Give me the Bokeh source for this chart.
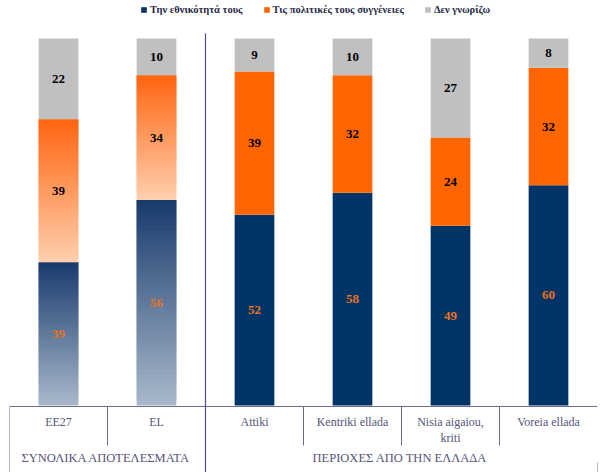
from bokeh.plotting import figure
from bokeh.models import FactorRange, Range1d, Legend, LegendItem, ColumnDataSource
from bokeh.core.properties import value
from bokeh.embed import file_html
from bokeh.resources import INLINE

# ---- data ----
categories = ["EE27", "EL", "Attiki", "Kentriki ellada", "Nisia aigaiou,", "Voreia ellada"]
category_labels = ["EE27", "EL", "Attiki", "Kentriki ellada", "Nisia aigaiou,\nkriti", "Voreia ellada"]
nationality = [39, 56, 52, 58, 49, 60]
political = [39, 34, 39, 32, 24, 32]
dont_know = [22, 10, 9, 10, 27, 8]
series_names = ["Την εθνικότητά τους", "Τις πολιτικές τους συγγένειες", "Δεν γνωρίζω"]
group_labels = ["ΣΥΝΟΛΙΚΑ  ΑΠΟΤΕΛΕΣΜΑΤΑ", "ΠΕΡΙΟΧΕΣ  ΑΠΟ ΤΗΝ ΕΛΛΑΔΑ"]
group_sizes = [2, 4]

# ---- style ----
NAVY = "#003366"
ORANGE = "#FF6600"
GRAY = "#C0C0C0"
LINE = "#6a6a8c"
DIVIDER = "#4f4f86"
SERIF = "Liberation Serif"
BAR_W = 0.405

p = figure(width=600, height=472, output_backend="svg", toolbar_location=None,
           x_range=FactorRange(factors=categories, range_padding=0),
           y_range=Range1d(-18.26, 110.35),
           min_border_left=9, min_border_right=3, min_border_top=0, min_border_bottom=0)
p.xaxis.visible = False
p.yaxis.visible = False
p.xgrid.visible = False
p.ygrid.visible = False
p.outline_line_color = None
p.background_fill_color = "white"

n_tot = group_sizes[0]

# ---- gradient bars for the totals group (rendered as thin overlapping slices) ----
def hexrgb(h):
    h = h.lstrip("#")
    return tuple(int(h[i:i + 2], 16) for i in (0, 2, 4))

def mix(c1, c2, t):
    a, b = hexrgb(c1), hexrgb(c2)
    return "#%02x%02x%02x" % tuple(int(round(a[i] + (b[i] - a[i]) * t)) for i in range(3))

grad = {"x": [], "bottom": [], "top": [], "color": []}
N = 40
for i in range(n_tot):
    segs = [(0, nationality[i], "#183a6c", "#a9b9cb"),
            (nationality[i], nationality[i] + political[i], "#ff6510", "#ffcfae")]
    for b, t, ctop, cbot in segs:
        h = (t - b) / N
        for k in range(N):
            y0 = b + h * k
            grad["x"].append(categories[i])
            grad["bottom"].append(y0)
            grad["top"].append(min(t, y0 + h * 2.0))
            grad["color"].append(mix(cbot, ctop, (k + 0.5) / N))
p.vbar(x="x", bottom="bottom", top="top", width=BAR_W, source=ColumnDataSource(grad),
       fill_color="color", line_color=None)
gray_tot = ColumnDataSource(dict(x=categories[:n_tot],
                                 bottom=[nationality[i] + political[i] for i in range(n_tot)],
                                 top=[nationality[i] + political[i] + dont_know[i] for i in range(n_tot)]))
p.vbar(x="x", bottom="bottom", top="top", width=BAR_W, source=gray_tot,
       fill_color=GRAY, line_color=None)

# ---- solid stacked bars for the regions ----
src = ColumnDataSource(dict(x=categories[n_tot:], nat=nationality[n_tot:],
                            pol=political[n_tot:], dk=dont_know[n_tot:]))
rs = p.vbar_stack(["nat", "pol", "dk"], x="x", width=BAR_W, source=src,
                  color=[NAVY, ORANGE, GRAY], line_color=None)

# ---- value labels ----
lab = {"x": [], "y": [], "t": [], "c": []}
for i, cat in enumerate(categories):
    b = 0
    for v, col in ((nationality[i], "#E8731E"), (political[i], "black"), (dont_know[i], "black")):
        lab["x"].append(cat)
        lab["y"].append(b + v / 2)
        lab["t"].append(str(v))
        lab["c"].append(col)
        b += v
p.text(x="x", y="y", text="t", text_color="c", source=ColumnDataSource(lab),
       text_font=value(SERIF), text_font_style="bold", text_font_size="13px",
       text_align="center", text_baseline="middle")

# ---- table below the bars ----
ncat = len(categories)
p.segment(x0=[0], y0=[-0.27], x1=[ncat], y1=[-0.27], line_color=LINE, line_width=1)
sep_x = [k for k in range(1, ncat) if k != n_tot]
p.segment(x0=sep_x, y0=[-0.27] * len(sep_x), x1=sep_x, y1=[-10.9] * len(sep_x),
          line_color=LINE, line_width=1)
p.segment(x0=[0], y0=[-0.27], x1=[0], y1=[-18.3], line_color=LINE, line_width=1)
p.segment(x0=[ncat], y0=[-15.5], x1=[ncat], y1=[-18.3], line_color=LINE, line_width=1)
p.segment(x0=[n_tot], y0=[101.4], x1=[n_tot], y1=[-18.3], line_color=DIVIDER, line_width=1.2)

p.text(x=categories, y=[-2.5] * ncat, text=category_labels, text_color="#55557a",
       text_font=value(SERIF), text_font_size="12px", text_align="center",
       text_baseline="top", text_line_height=1.15)

gx = [group_sizes[0] / 2, group_sizes[0] + group_sizes[1] / 2]
p.text(x=gx, y=[-14.4, -14.4], text=group_labels, text_color="#55557a",
       text_font=value(SERIF), text_font_size="12.5px", text_align="center",
       text_baseline="middle")

# ---- legend ----
legend = Legend(items=[LegendItem(label=series_names[k], renderers=[rs[k]]) for k in range(3)],
                orientation="horizontal", location=(131, 457),
                glyph_width=7, glyph_height=7, label_standoff=3, spacing=20,
                padding=0, margin=0, border_line_color=None, background_fill_alpha=0,
                label_text_font=SERIF, label_text_font_style="bold",
                label_text_font_size="10.5px", label_text_color="#1f2a44",
                label_height=12)
p.add_layout(legend)

open("out.html", "w").write(file_html(p, INLINE))
